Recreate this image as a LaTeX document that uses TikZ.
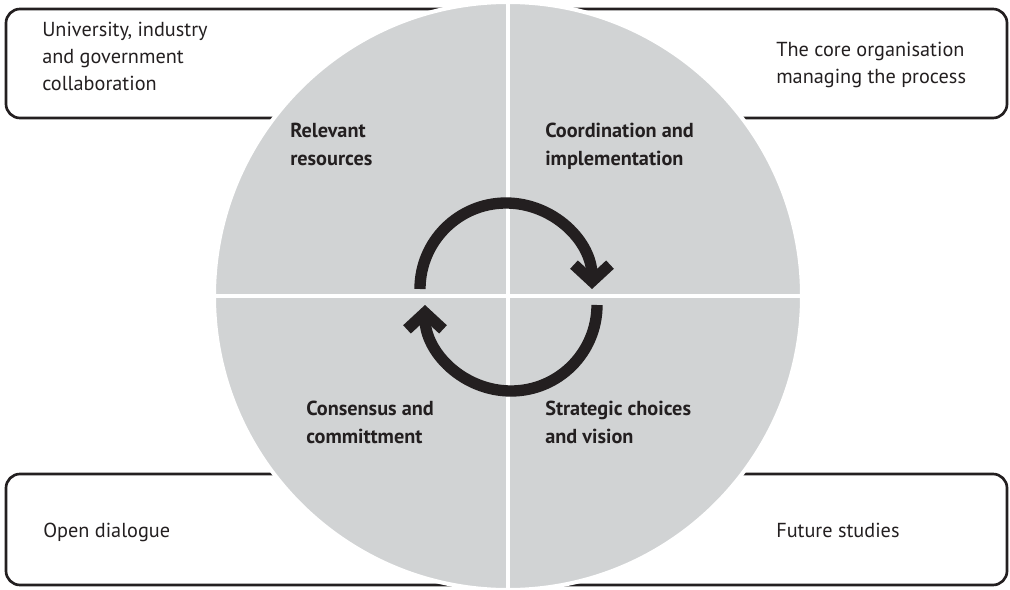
\documentclass[tikz,border=0pt]{standalone}
\usepackage{fontspec}
\setmainfont{PT Sans}
\usetikzlibrary{arrows.meta}
\definecolor{wheelgray}{RGB}{209,211,212}
\definecolor{inkblack}{RGB}{35,31,32}

\begin{document}
\begin{tikzpicture}[x=0.75pt,y=-0.75pt,
  box/.style={draw=inkblack,line width=2pt,rounded corners=10.5pt},
  boxtext/.style={anchor=base west,align=left,inner sep=0pt,text=inkblack,
    font=\fontsize{15.2}{20.2}\selectfont},
  quadtext/.style={boxtext,font=\fontsize{15.2}{20.8}\selectfont\bfseries},
  turn/.style={draw=inkblack,line width=8.5pt,
    -{Straight Barb[length=12.5pt,width=27pt]}}]
\useasboundingbox (0,0) rectangle (1010,589);

% outer boxes
\draw[box] (6,9) rectangle (508,118);
\draw[box] (508,9) rectangle (1007,118);
\draw[box] (6,474) rectangle (508,585);
\draw[box] (508,474) rectangle (1007,585);

% the wheel
\node[circle,fill=wheelgray,draw=white,line width=3pt,inner sep=0pt,
  minimum size=441pt] (wheel) at (508,296) {};
\draw[white,line width=2.6pt] (wheel.north) -- (wheel.south);
\draw[white,line width=2.6pt] (wheel.west) -- (wheel.east);

% cycle arrows
\draw[turn] (420,289) arc[start angle=180,end angle=360,radius=86];
\draw[turn] (597,305) arc[start angle=0,end angle=180,radius=86];

% box labels (base = last line)
\node[boxtext] (collab) at (42,90) {University, industry\\and government\\collaboration};
\node[boxtext] (core) at (776,83) {The core organisation\\managing the process};
\node[boxtext] (dialogue) at (43,537) {Open dialogue};
\node[boxtext] (future) at (776,537) {Future studies};

% quadrant labels
\node[quadtext] (resources) at (290,165) {Relevant\\resources};
\node[quadtext] (coord) at (545,165) {Coordination and\\implementation};
\node[quadtext] (consensus) at (306,443) {Consensus and\\committment};
\node[quadtext] (strategy) at (545,443) {Strategic choices\\and vision};
\end{tikzpicture}
\end{document}
